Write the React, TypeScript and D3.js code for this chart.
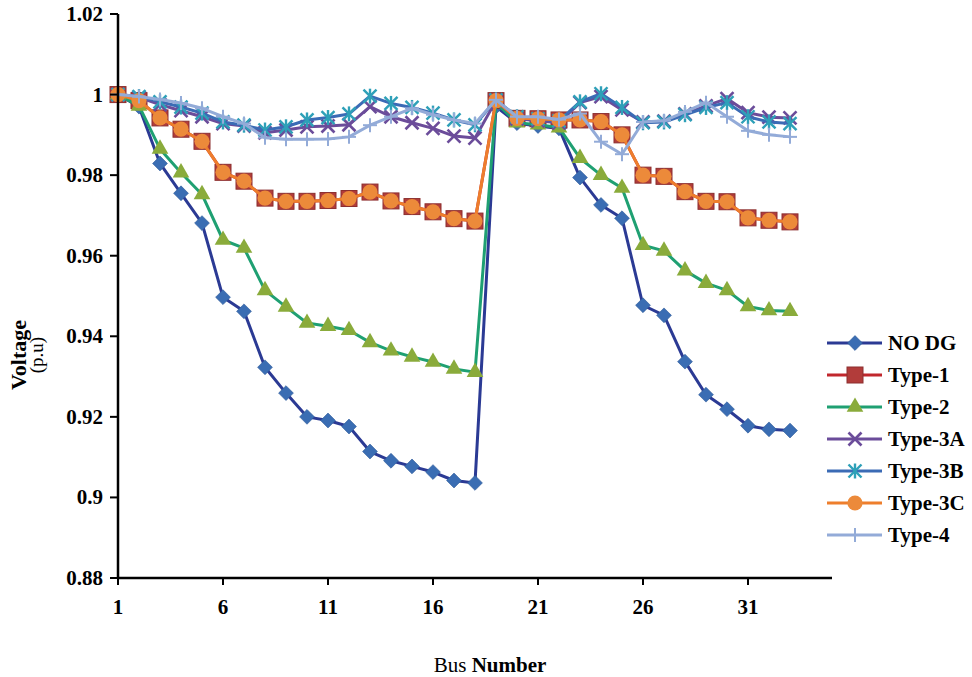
import React from "react";
import * as d3 from "d3";

const buses = [1,2,3,4,5,6,7,8,9,10,11,12,13,14,15,16,17,18,19,20,21,22,23,24,25,26,27,28,29,30,31,32,33];

const noDG = [1.0000,0.9970,0.9829,0.9755,0.9681,0.9497,0.9462,0.9323,0.9259,0.9200,0.9191,0.9176,0.9114,0.9091,0.9077,0.9063,0.9042,0.9036,0.9970,0.9929,0.9922,0.9916,0.9794,0.9726,0.9693,0.9477,0.9452,0.9337,0.9255,0.9219,0.9178,0.9169,0.9166];
const type1 = [1.0000,0.9985,0.9942,0.9914,0.9884,0.9807,0.9785,0.9743,0.9735,0.9735,0.9737,0.9742,0.9758,0.9736,0.9722,0.9709,0.9692,0.9686,0.9985,0.9941,0.9940,0.9937,0.9937,0.9933,0.9900,0.9800,0.9797,0.9759,0.9735,0.9734,0.9694,0.9688,0.9684];
const type2 = [1.0000,0.9972,0.9865,0.9806,0.9752,0.9639,0.9619,0.9514,0.9473,0.9433,0.9425,0.9415,0.9385,0.9364,0.9349,0.9336,0.9319,0.9311,0.9980,0.9930,0.9925,0.9918,0.9842,0.9800,0.9768,0.9626,0.9612,0.9563,0.9532,0.9514,0.9474,0.9464,0.9462];
const type3A = [1.0000,0.9993,0.9975,0.9960,0.9945,0.9928,0.9922,0.9905,0.9912,0.9920,0.9922,0.9925,0.9970,0.9945,0.9930,0.9916,0.9897,0.9892,0.9985,0.9940,0.9935,0.9930,0.9980,0.9995,0.9962,0.9932,0.9934,0.9952,0.9972,0.9990,0.9955,0.9944,0.9942];
const type3B = [1.0000,0.9995,0.9982,0.9969,0.9954,0.9932,0.9924,0.9912,0.9920,0.9937,0.9943,0.9952,0.9996,0.9978,0.9968,0.9954,0.9937,0.9925,0.9987,0.9945,0.9940,0.9935,0.9982,1.0002,0.9968,0.9930,0.9932,0.9950,0.9968,0.9980,0.9945,0.9932,0.9928];
const type3C = [1.0000,0.9985,0.9942,0.9914,0.9884,0.9807,0.9785,0.9743,0.9735,0.9735,0.9737,0.9742,0.9758,0.9736,0.9722,0.9709,0.9692,0.9686,0.9985,0.9941,0.9940,0.9937,0.9937,0.9933,0.9900,0.9800,0.9797,0.9759,0.9735,0.9734,0.9694,0.9688,0.9684];
const type4 = [1.0000,0.9995,0.9988,0.9979,0.9966,0.9945,0.9928,0.9893,0.9889,0.9889,0.9890,0.9895,0.9924,0.9945,0.9966,0.9950,0.9937,0.9928,0.9987,0.9945,0.9945,0.9938,0.9953,0.9883,0.9852,0.9932,0.9935,0.9957,0.9980,0.9945,0.9910,0.9900,0.9895];

const seriesNames = ["NO DG","Type-1","Type-2","Type-3A","Type-3B","Type-3C","Type-4"];
const seriesValues = [noDG, type1, type2, type3A, type3B, type3C, type4];
const lineColors = ["#2B3A94","#C1272D","#1FA072","#6B4C9A","#3B6BB5","#EE7E2C","#93ABD8"];
const markerTypes = ["diamond","square","triangle","x","star","circle","plus"];
const markerColors = ["#3A6DB3","#B23C3A","#8AAB3B","#6B4C9A","#2EA0B8","#EC8A3A","#93ABD8"];

const xTicks = [1,6,11,16,21,26,31];
const yTicks = [0.88,0.9,0.92,0.94,0.96,0.98,1,1.02];

const W = 972, H = 677;
const x = d3.scaleLinear().domain([1, 35]).range([118, 832]);
const y = d3.scaleLinear().domain([0.88, 1.02]).range([578, 14]);

const FONT = "'Liberation Serif', 'Times New Roman', serif";

function Marker({ type, cx, cy, color }: { type: string; cx: number; cy: number; color: string }) {
  if (type === "diamond") {
    const p = d3.symbol(d3.symbolSquare, 110)();
    return <path d={p || ""} transform={`translate(${cx},${cy}) rotate(45)`} fill={color} stroke="#2F5C99" strokeWidth={0.6} />;
  }
  if (type === "square") {
    return <rect x={cx - 8} y={cy - 8} width={16} height={16} fill={color} stroke="#8C2F2E" strokeWidth={1} />;
  }
  if (type === "triangle") {
    const p = d3.symbol(d3.symbolTriangle, 120)();
    return <path d={p || ""} transform={`translate(${cx},${cy})`} fill={color} />;
  }
  if (type === "circle") {
    return <circle cx={cx} cy={cy} r={7.6} fill={color} />;
  }
  if (type === "x") {
    const s = 6.5;
    return (
      <g stroke={color} strokeWidth={2.6}>
        <line x1={cx - s} y1={cy - s} x2={cx + s} y2={cy + s} />
        <line x1={cx - s} y1={cy + s} x2={cx + s} y2={cy - s} />
      </g>
    );
  }
  if (type === "star") {
    const s = 6.5;
    return (
      <g stroke={color} strokeWidth={2.4}>
        <line x1={cx - s} y1={cy - s} x2={cx + s} y2={cy + s} />
        <line x1={cx - s} y1={cy + s} x2={cx + s} y2={cy - s} />
        <line x1={cx} y1={cy - s - 1} x2={cx} y2={cy + s + 1} />
      </g>
    );
  }
  const s = 7;
  return (
    <g stroke={color} strokeWidth={2}>
      <line x1={cx - s} y1={cy} x2={cx + s} y2={cy} />
      <line x1={cx} y1={cy - s} x2={cx} y2={cy + s} />
    </g>
  );
}

export default function App() {
  const line = d3.line<number>().x((_, i) => x(buses[i])).y((d) => y(d));
  return (
    <svg width={W} height={H} style={{ position: "absolute", left: 0, top: 0, background: "#fff" }} fontFamily={FONT}>
      <rect x={0} y={0} width={W} height={H} fill="#fff" />
      {seriesValues.map((vals, si) => (
        <g key={si}>
          <path d={line(vals) || ""} fill="none" stroke={lineColors[si]} strokeWidth={3} strokeLinejoin="round" />
          {vals.map((v, i) => (
            <Marker key={i} type={markerTypes[si]} cx={x(buses[i])} cy={y(v)} color={markerColors[si]} />
          ))}
        </g>
      ))}
      <line x1={x(1)} y1={y(1.02)} x2={x(1)} y2={y(0.88)} stroke="#000" strokeWidth={2.5} />
      <line x1={x(1) - 1} y1={y(0.88)} x2={x(35)} y2={y(0.88)} stroke="#000" strokeWidth={2.5} />
      {yTicks.map((t) => (
        <g key={t}>
          <line x1={x(1) - 8} y1={y(t)} x2={x(1)} y2={y(t)} stroke="#000" strokeWidth={2} />
          <text x={103} y={y(t) + 7} textAnchor="end" fontSize={21} fontWeight="bold">{String(t)}</text>
        </g>
      ))}
      {xTicks.map((t) => (
        <g key={t}>
          <line x1={x(t)} y1={y(0.88)} x2={x(t)} y2={y(0.88) + 7} stroke="#000" strokeWidth={2} />
          <text x={x(t)} y={614} textAnchor="middle" fontSize={21} fontWeight="bold">{String(t)}</text>
        </g>
      ))}
      <text transform="translate(26,355) rotate(-90)" textAnchor="middle" fontSize={22} fontWeight="bold">Voltage</text>
      <text transform="translate(43,355) rotate(-90)" textAnchor="middle" fontSize={19}>(p.u)</text>
      <text x={490} y={672} textAnchor="middle" fontSize={21}>
        <tspan>Bus </tspan>
        <tspan fontWeight="bold">Number</tspan>
      </text>
      {seriesNames.map((n, i) => {
        const ly = 343 + i * 32;
        return (
          <g key={n}>
            <line x1={827} y1={ly} x2={882} y2={ly} stroke={lineColors[i]} strokeWidth={3} />
            <Marker type={markerTypes[i]} cx={855} cy={ly} color={markerColors[i]} />
            <text x={888} y={ly + 7} fontSize={21} fontWeight="bold">{n}</text>
          </g>
        );
      })}
    </svg>
  );
}
